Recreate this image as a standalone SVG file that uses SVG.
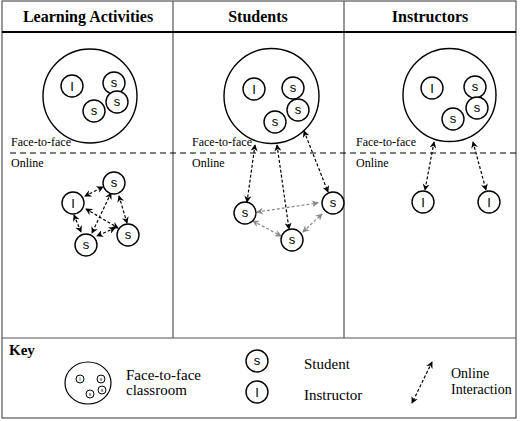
<svg xmlns="http://www.w3.org/2000/svg" width="520" height="421" viewBox="0 0 520 421">
<style>
.frame{fill:none;stroke:#555;stroke-width:1.2}
.big{fill:none;stroke:#000;stroke-width:1.4}
.node circle{fill:#fff;stroke:#000;stroke-width:1.4}
.lt{font-family:"Liberation Sans",Arial,sans-serif;font-size:13px;text-anchor:middle;fill:#000}
.hd{font-family:"Liberation Serif","Times New Roman",serif;font-weight:bold;font-size:16px;text-anchor:middle;fill:#000}
.sm{font-family:"Liberation Serif","Times New Roman",serif;font-size:12px;fill:#000}
.key{font-family:"Liberation Serif","Times New Roman",serif;font-size:15px;fill:#000}
.ca{stroke:#000;stroke-width:1.2;stroke-dasharray:3,2;fill:none;marker-start:url(#ab);marker-end:url(#ab)}
.ga{stroke:#888;stroke-width:1.2;stroke-dasharray:3,2;fill:none;marker-start:url(#ag);marker-end:url(#ag)}
</style>
<defs>
<marker id="ab" viewBox="0 0 8 8" refX="7" refY="4" markerWidth="7" markerHeight="7" markerUnits="userSpaceOnUse" orient="auto-start-reverse"><path d="M0,0 L8,4 L0,8 L2.5,4 z" fill="#000"/></marker>
<marker id="ag" viewBox="0 0 8 8" refX="7" refY="4" markerWidth="7" markerHeight="7" markerUnits="userSpaceOnUse" orient="auto-start-reverse"><path d="M0,0 L8,4 L0,8 L2.5,4 z" fill="#888"/></marker>
</defs>
<rect x="0" y="0" width="520" height="421" fill="#fff"/>
<g id="frame">
<rect class="frame" x="2" y="1" width="514" height="417"/>
<line class="frame" x1="173" y1="1" x2="173" y2="338"/>
<line class="frame" x1="344" y1="1" x2="344" y2="338"/>
<line class="frame" x1="2" y1="338" x2="516" y2="338"/>
<line x1="2" y1="32" x2="516" y2="32" stroke="#000" stroke-width="2.2"/>
<line x1="10" y1="153" x2="516" y2="153" stroke="#000" stroke-width="1.2" stroke-dasharray="6,4"/>
</g>
<g id="headers">
<text class="hd" x="88" y="22">Learning Activities</text>
<text class="hd" x="258" y="22">Students</text>
<text class="hd" x="430" y="22">Instructors</text>
</g>
<g id="labels">
<text class="sm" x="11" y="146">Face-to-face</text>
<text class="sm" x="11" y="167">Online</text>
<text class="sm" x="192" y="146">Face-to-face</text>
<text class="sm" x="192" y="167">Online</text>
<text class="sm" x="356" y="146">Face-to-face</text>
<text class="sm" x="356" y="167">Online</text>
</g>
<g id="classroom1" class="node">
<circle class="big" cx="90" cy="96" r="47" style="fill:none"/>
<circle cx="72" cy="86" r="11"/><text class="lt" x="72" y="91">I</text>
<circle cx="114" cy="83" r="11"/><text class="lt" x="114" y="87">s</text>
<circle cx="94" cy="111" r="11"/><text class="lt" x="94" y="115">s</text>
<circle cx="117" cy="102" r="11"/><text class="lt" x="117" y="106">s</text>
</g>
<g id="classroom2" class="node">
<circle class="big" cx="271.5" cy="96" r="47.5" style="fill:none"/>
<circle cx="254" cy="89" r="11"/><text class="lt" x="254" y="94">I</text>
<circle cx="293" cy="88" r="11"/><text class="lt" x="293" y="92">s</text>
<circle cx="275" cy="122" r="11"/><text class="lt" x="275" y="126">s</text>
<circle cx="298" cy="110" r="11"/><text class="lt" x="298" y="114">s</text>
</g>
<g id="classroom3" class="node">
<circle class="big" cx="449.5" cy="95" r="46.5" style="fill:none"/>
<circle cx="432" cy="88" r="11"/><text class="lt" x="432" y="93">I</text>
<circle cx="475" cy="87" r="11"/><text class="lt" x="475" y="91">s</text>
<circle cx="453" cy="119" r="11"/><text class="lt" x="453" y="123">s</text>
<circle cx="477" cy="108" r="11"/><text class="lt" x="477" y="112">s</text>
</g>
<g id="connectors">
<line class="ca" x1="85" y1="196" x2="103" y2="187"/>
<line class="ca" x1="74" y1="215" x2="81" y2="232"/>
<line class="ca" x1="86" y1="209" x2="118" y2="228"/>
<line class="ca" x1="111" y1="193" x2="92" y2="233"/>
<line class="ca" x1="119" y1="196" x2="127" y2="223"/>
<line class="ca" x1="115" y1="228" x2="97" y2="236"/>
<line class="ca" x1="255" y1="145" x2="247" y2="202"/>
<line class="ca" x1="277" y1="145" x2="289" y2="229"/>
<line class="ca" x1="304" y1="131" x2="328" y2="192"/>
<line class="ga" x1="257" y1="212" x2="318" y2="203"/>
<line class="ga" x1="253" y1="221" x2="281" y2="236"/>
<line class="ga" x1="303" y1="232" x2="322" y2="214"/>
<line class="ca" x1="434" y1="142" x2="425" y2="190"/>
<line class="ca" x1="473" y1="142" x2="486" y2="190"/>
<line class="ca" x1="432" y1="362" x2="412" y2="403"/>
</g>
<g id="online1" class="node">
<circle cx="73" cy="203" r="11"/><text class="lt" x="73" y="208">I</text>
<circle cx="114" cy="183" r="11"/><text class="lt" x="114" y="187">s</text>
<circle cx="128" cy="235" r="11"/><text class="lt" x="128" y="239">s</text>
<circle cx="86" cy="245" r="11"/><text class="lt" x="86" y="249">s</text>
</g>
<g id="online2" class="node">
<circle cx="245" cy="213" r="11"/><text class="lt" x="245" y="217">s</text>
<circle cx="292" cy="240" r="11"/><text class="lt" x="292" y="244">s</text>
<circle cx="333" cy="203" r="11"/><text class="lt" x="333" y="207">s</text>
</g>
<g id="online3" class="node">
<circle cx="423" cy="202" r="11"/><text class="lt" x="423" y="207">I</text>
<circle cx="489" cy="202" r="11"/><text class="lt" x="489" y="207">I</text>
</g>
<g id="key">
<text class="key" x="9" y="355" font-weight="bold">Key</text>
<ellipse cx="88" cy="383" rx="23" ry="21" fill="none" stroke="#000" stroke-width="1.2"/>
<g class="node" style="font-family:'Liberation Sans',sans-serif;font-size:5px;text-anchor:middle">
<circle cx="80" cy="379" r="4" style="stroke-width:1"/><text x="80" y="381">I</text>
<circle cx="101" cy="379" r="4" style="stroke-width:1"/><text x="101" y="381">s</text>
<circle cx="90" cy="394" r="4" style="stroke-width:1"/><text x="90" y="396">s</text>
<circle cx="102" cy="390" r="4" style="stroke-width:1"/><text x="102" y="392">s</text>
</g>
<text class="key" x="126" y="380">Face-to-face</text>
<text class="key" x="126" y="395">classroom</text>
<g class="node">
<circle cx="257" cy="361" r="11"/><text class="lt" x="257" y="365">s</text>
<circle cx="257" cy="392" r="11"/><text class="lt" x="257" y="397">I</text>
</g>
<text class="key" x="304" y="369">Student</text>
<text class="key" x="304" y="400">Instructor</text>
<text class="key" x="451" y="378" style="font-size:14px">Online</text>
<text class="key" x="451" y="394" style="font-size:14px">Interaction</text>
</g>
</svg>
